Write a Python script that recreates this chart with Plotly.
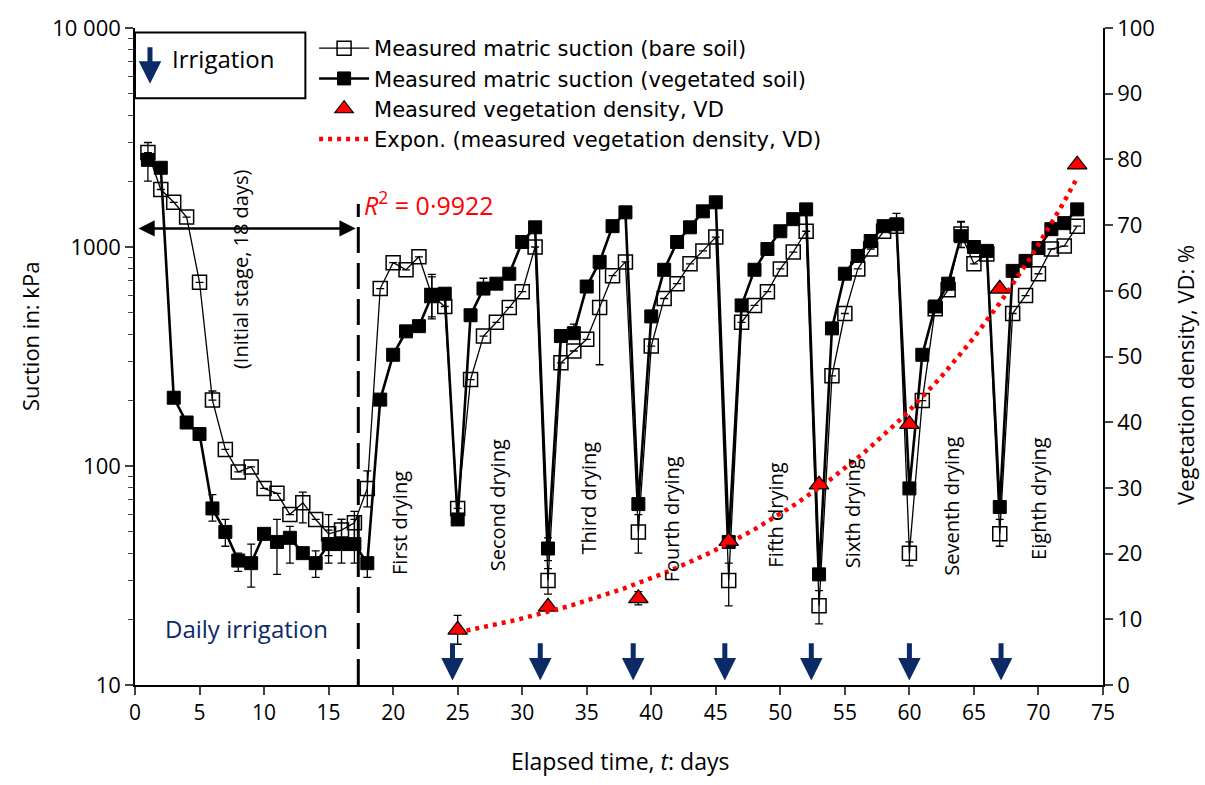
import numpy as np
import plotly.graph_objects as go

# ---------------- data ----------------
days = list(range(1, 74))

bare_suction = [2700, 1830, 1600, 1370, 690, 200, 119, 94, 99, 79, 75, 60, 68, 57, 49, 51, 55, 79,
                646, 848, 787, 902, 600, 535, 64,
                248, 392, 453, 530, 625, 1000, 30,
                296, 335, 379, 530, 740, 855, 50,
                353, 582, 680, 838, 960, 1110, 30,
                453, 541, 625, 794, 948, 1180, 23,
                258, 497, 794, 979, 1180, 1245, 40,
                199, 523, 638, 1145, 838, 929, 49,
                497, 600, 755, 979, 1010, 1245]

bare_err_plus = [300, 0, 0, 0, 0, 20, 0, 0, 0, 0, 0, 0, 8, 0, 11, 6, 7, 16,
                 0, 0, 0, 0, 130, 0, 0,
                 0, 0, 0, 0, 0, 0, 4,
                 0, 0, 0, 265, 0, 0, 10,
                 0, 0, 0, 0, 0, 0, 6,
                 0, 0, 0, 0, 0, 0, 4,
                 0, 0, 0, 0, 0, 180, 5,
                 0, 0, 0, 165, 0, 0, 8,
                 0, 0, 0, 0, 0, 0]
bare_err_minus = [0, 0, 0, 0, 0, 0, 0, 0, 0, 0, 0, 0, 13, 0, 10, 9, 10, 14,
                  0, 0, 0, 0, 130, 0, 0,
                  0, 0, 0, 0, 0, 0, 4,
                  0, 0, 0, 240, 0, 0, 10,
                  0, 0, 0, 0, 0, 0, 7,
                  0, 0, 0, 0, 0, 0, 4,
                  0, 0, 0, 0, 0, 0, 5,
                  0, 0, 0, 150, 0, 0, 6,
                  0, 0, 0, 0, 0, 0]

veg_suction = [2500, 2300, 205, 158, 140, 64, 50, 37, 36, 49, 45, 47, 40, 36, 44, 44, 44, 36,
               201, 322, 412, 435, 600, 612, 57,
               488, 646, 680, 755, 1054, 1230, 42,
               392, 404, 660, 855, 1245, 1440, 67,
               482, 787, 1054, 1230, 1455, 1600, 45,
               541, 787, 979, 1180, 1340, 1485, 32,
               425, 755, 910, 1065, 1245, 1270, 79,
               322, 535, 680, 1120, 1000, 960, 65,
               778, 864, 989, 1206, 1285, 1485]

veg_err_plus = [0, 0, 0, 0, 0, 10, 7, 3, 8, 0, 12, 6, 0, 5, 7, 13, 13, 0,
                0, 0, 25, 0, 150, 0, 0,
                0, 74, 0, 0, 0, 0, 5,
                0, 40, 0, 0, 0, 0, 0,
                0, 0, 0, 0, 0, 0, 0,
                0, 0, 0, 0, 0, 0, 0,
                0, 0, 0, 0, 0, 0, 0,
                0, 0, 0, 180, 0, 0, 0,
                0, 0, 0, 0, 0, 0]
veg_err_minus = [500, 0, 0, 0, 0, 8, 7, 4, 8, 0, 13, 11, 0, 5, 8, 8, 8, 5,
                 0, 0, 0, 0, 120, 0, 0,
                 0, 0, 0, 0, 0, 0, 5,
                 0, 0, 0, 0, 0, 0, 0,
                 0, 0, 0, 0, 0, 0, 0,
                 0, 0, 0, 0, 0, 0, 0,
                 0, 0, 0, 0, 0, 0, 0,
                 0, 0, 0, 0, 0, 0, 0,
                 0, 0, 0, 0, 0, 0]

vd_days = [25, 32, 39, 46, 53, 60, 67, 73]
vd_values = [8.4, 11.9, 13.2, 21.9, 30.5, 39.7, 60.3, 79.2]
vd_err = [2.2, 0, 1.0, 0, 0, 0, 0, 0]

irrigation_days = [24.6, 31.4, 38.6, 45.7, 52.4, 60.0, 67.1]

stage_labels = ["(Initial stage, 18 days)", "First drying", "Second drying", "Third drying",
                "Fourth drying", "Fifth drying", "Sixth drying", "Seventh drying", "Eighth drying"]
stage_label_x = [8.13, 20.5, 28.1, 35.1, 41.6, 49.6, 55.6, 63.3, 70.0]
stage_label_y = [63.3, 24.6, 27.3, 28.4, 25.2, 25.8, 26.1, 27.3, 28.4]

x_ticks = list(range(0, 80, 5))
y_ticks = [10, 100, 1000, 10000]
y_ticktext = ["10", "100", "1000", "10 000"]
y_minor = [m * 10 ** d for d in range(1, 4) for m in range(2, 10)]
y2_ticks = list(range(0, 110, 10))

# exponential trend fitted to the measured vegetation density
b, ln_a = np.polyfit(vd_days, np.log(vd_values), 1)
fit_t = np.linspace(vd_days[0], vd_days[-1], 120)
fit_vd = np.exp(ln_a) * np.exp(b * fit_t)

# ---------------- styling ----------------
WIDE = "DejaVu Sans, Open Sans, sans-serif"
TXT = "Open Sans, Noto Sans, sans-serif"
NAVY = "#0b2a66"

fig = go.Figure()

fig.add_trace(go.Scatter(
    x=days, y=bare_suction, mode="lines+markers",
    name="Measured matric suction (bare soil)",
    line=dict(color="black", width=1.3),
    marker=dict(symbol="square-open", size=14, color="black", line=dict(width=1.5)),
    error_y=dict(type="data", symmetric=False, array=bare_err_plus, arrayminus=bare_err_minus,
                 color="black", thickness=1.3, width=4),
))
fig.add_trace(go.Scatter(
    x=days, y=veg_suction, mode="lines+markers",
    name="Measured matric suction (vegetated soil)",
    line=dict(color="black", width=2.6),
    marker=dict(symbol="square", size=13, color="black", line=dict(width=1, color="black")),
    error_y=dict(type="data", symmetric=False, array=veg_err_plus, arrayminus=veg_err_minus,
                 color="black", thickness=1.3, width=4),
))
fig.add_trace(go.Scatter(
    x=vd_days, y=vd_values, mode="markers", yaxis="y2",
    name="Measured vegetation density, VD",
    marker=dict(symbol="triangle-up", size=17, color="#ff0000", line=dict(width=1.2, color="black")),
    error_y=dict(type="data", array=vd_err, color="black", thickness=1.3, width=4),
))
fig.add_trace(go.Scatter(
    x=fit_t, y=fit_vd, mode="lines", yaxis="y2",
    name="Expon. (measured vegetation density, VD)",
    line=dict(color="#ff0000", width=4.5, dash="4px,5px"),
))

annotations = []
for lab, lx, ly in zip(stage_labels, stage_label_x, stage_label_y):
    annotations.append(dict(x=lx, y=ly, xref="x", yref="y2", text=lab, showarrow=False,
                            textangle=-90, font=dict(family=TXT, size=20, color="black")))
for d in irrigation_days:
    annotations.append(dict(x=d, y=0.7, ax=d, ay=6.6, xref="x", yref="y2", axref="x", ayref="y2",
                            text="", showarrow=True, arrowhead=2, arrowsize=0.9, arrowwidth=5,
                            arrowcolor=NAVY))
# double-headed arrow of the initial stage
annotations.append(dict(x=17.1, y=69.5, ax=0.15, ay=69.5, xref="x", yref="y2", axref="x", ayref="y2",
                        text="", showarrow=True, arrowhead=2, startarrowhead=2, arrowside="end+start",
                        arrowsize=1.3, startarrowsize=1.3, arrowwidth=2.5, arrowcolor="black"))
# irrigation key box
annotations.append(dict(x=1.16, y=91.5, ax=1.16, ay=97.3, xref="x", yref="y2", axref="x", ayref="y2",
                        text="", showarrow=True, arrowhead=2, arrowsize=0.9, arrowwidth=5,
                        arrowcolor=NAVY))
annotations.append(dict(x=2.75, y=95.3, xref="x", yref="y2", text="Irrigation", showarrow=False,
                        xanchor="left", font=dict(family=TXT, size=24, color="black")))
annotations.append(dict(x=17.6, y=73.3, xref="x", yref="y2", text="<i>R</i><sup>2</sup> = 0·9922",
                        showarrow=False, xanchor="left", font=dict(family=TXT, size=25, color="#ff0000")))
annotations.append(dict(x=8.6, y=8.6, xref="x", yref="y2", text="Daily irrigation", showarrow=False,
                        font=dict(family=TXT, size=24, color=NAVY)))
# axis titles
annotations.append(dict(x=-0.1085, y=0.531, xref="paper", yref="paper", text="Suction in: kPa",
                        xanchor="center", yanchor="middle",
                        showarrow=False, textangle=-90, font=dict(family=TXT, size=22, color="black")))
annotations.append(dict(x=1.0847, y=0.472, xref="paper", yref="paper", text="Vegetation density, VD: %",
                        xanchor="center", yanchor="middle",
                        showarrow=False, textangle=-90, font=dict(family=TXT, size=22, color="black")))
annotations.append(dict(x=0.501, y=-0.116, xref="paper", yref="paper", text="Elapsed time, <i>t</i>: days",
                        xanchor="center", yanchor="middle",
                        showarrow=False, font=dict(family=TXT, size=23, color="black")))

shapes = [
    dict(type="line", xref="x", yref="y2", x0=17.3, x1=17.3, y0=0, y1=73.2,
         line=dict(color="black", width=3, dash="26px,10px")),
    dict(type="rect", xref="x", yref="y2", x0=0, x1=13.2, y0=89.3, y1=99.3,
         line=dict(color="black", width=2), fillcolor="rgba(0,0,0,0)"),
]

fig.update_layout(
    width=1205, height=785,
    margin=dict(l=135, r=102, t=22, b=100),
    paper_bgcolor="white", plot_bgcolor="white",
    showlegend=True,
    legend=dict(x=0.185, y=1.0, xanchor="left", yanchor="top", bgcolor="rgba(0,0,0,0)",
                font=dict(family=WIDE, size=21, color="black"), tracegroupgap=0, itemwidth=50),
    xaxis=dict(range=[0, 75], tickvals=x_ticks, ticks="outside", ticklen=8, tickwidth=1.5,
               showline=True, linecolor="black", linewidth=1.5, showgrid=False, zeroline=False,
               tickfont=dict(family=TXT, size=21, color="black")),
    yaxis=dict(type="log", range=[1, 4], tickvals=y_ticks, ticktext=y_ticktext, ticks="outside",
               ticklen=8, tickwidth=1.5, showline=True, linecolor="black", linewidth=1.5,
               showgrid=False, zeroline=False,
               minor=dict(tickvals=y_minor, ticks="outside", ticklen=5, tickwidth=1.2, showgrid=False),
               tickfont=dict(family=TXT, size=22, color="black")),
    yaxis2=dict(overlaying="y", side="right", range=[0, 100], tickvals=y2_ticks, ticks="outside",
                ticklen=8, tickwidth=1.5, showline=True, linecolor="black", linewidth=1.5,
                showgrid=False, zeroline=False,
                tickfont=dict(family=TXT, size=22, color="black")),
    annotations=annotations,
    shapes=shapes,
)

fig.write_html("out.html")
